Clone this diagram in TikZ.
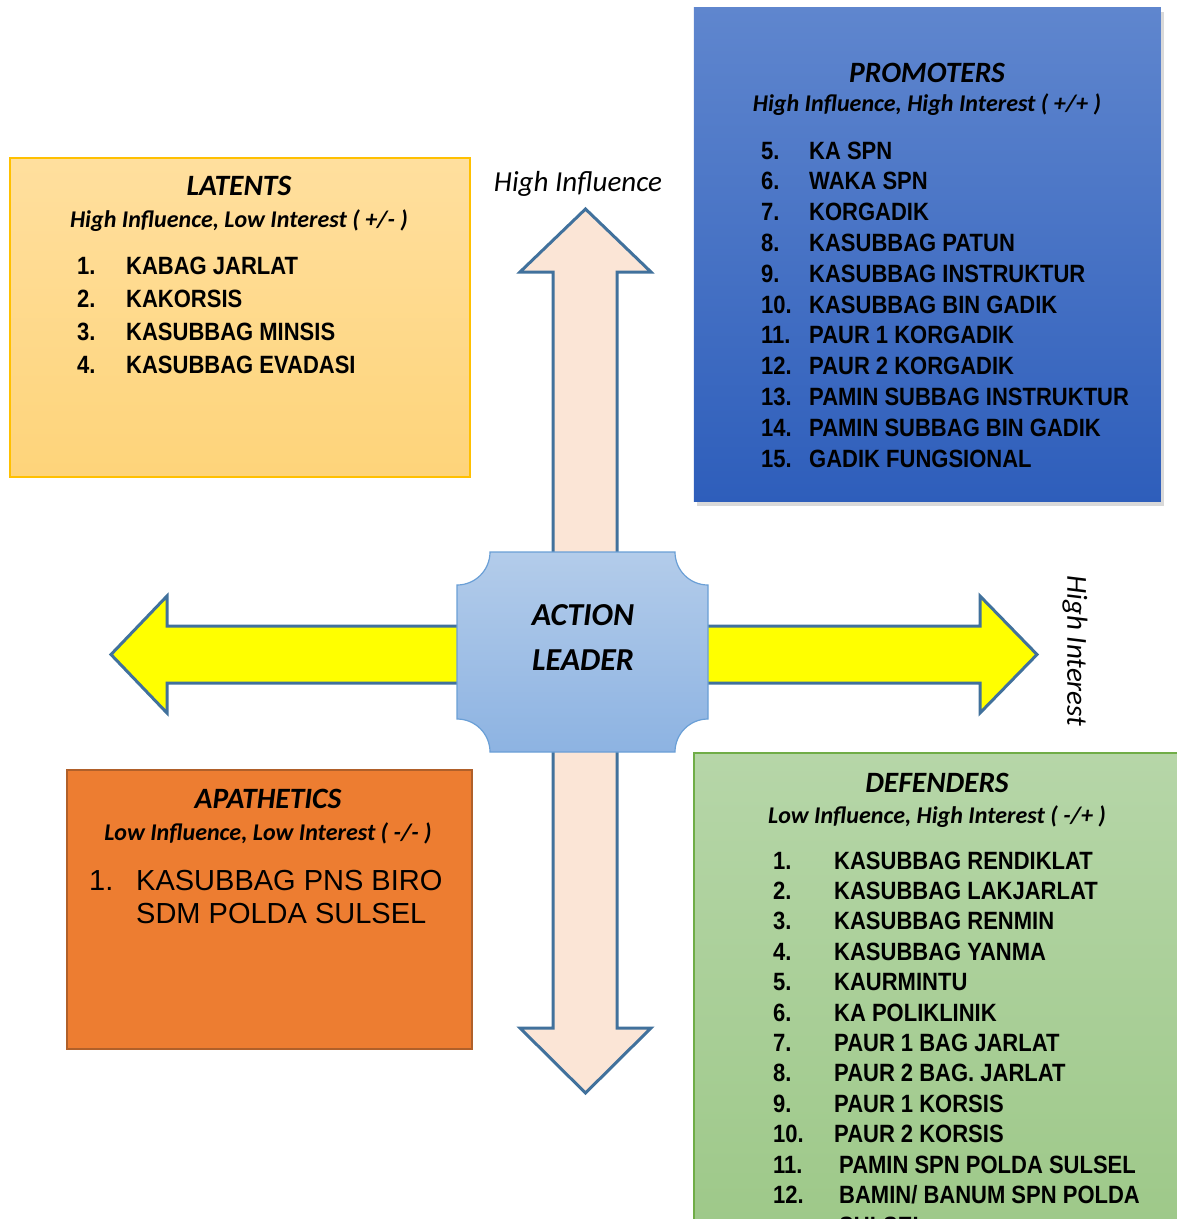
\documentclass[tikz,border=0pt]{standalone}
\usepackage{fontspec}
\setmainfont{Carlito}
\newfontfamily\arialfont{Liberation Sans}
\newfontfamily\narrowfont[FakeStretch=0.88]{Liberation Sans}
\usetikzlibrary{shadows}

\definecolor{arrowline}{HTML}{41719C}
\definecolor{shaftpink}{HTML}{FBE5D6}
\definecolor{arrowyellow}{HTML}{FFFF00}
\definecolor{latborder}{HTML}{FFC000}
\definecolor{lattop}{HTML}{FFDF9E}
\definecolor{latbottom}{HTML}{FED47A}
\definecolor{protop}{HTML}{5F86CE}
\definecolor{probottom}{HTML}{2E5EBB}
\definecolor{aptfill}{HTML}{ED7D31}
\definecolor{aptborder}{HTML}{B0602A}
\definecolor{defborder}{HTML}{70AD47}
\definecolor{deftop}{HTML}{B6D6A8}
\definecolor{defbottom}{HTML}{9DC888}
\definecolor{leaderline}{HTML}{6A9FD6}
\definecolor{leadertop}{HTML}{B3CCEA}
\definecolor{leaderbottom}{HTML}{8DB3E2}

\tikzset{
  quad/.style={draw,line width=1.5pt,anchor=north west,inner sep=0pt},
  title/.style={anchor=base,inner sep=0pt,font=\fontsize{29.5}{31}\selectfont\bfseries\itshape},
  subtitle/.style={anchor=base,inner sep=0pt,font=\fontsize{24}{26}\selectfont\bfseries\itshape},
  entry/.style={anchor=base west,inner sep=0pt,font=\fontsize{25}{30}\selectfont\narrowfont\bfseries},
  plainentry/.style={anchor=base west,inner sep=0pt,font=\fontsize{29}{33}\selectfont\arialfont},
  bigarrow/.style={draw=arrowline,line width=3pt,line join=miter},
  axislabel/.style={inner sep=0pt,font=\fontsize{29}{31}\selectfont\itshape},
}

\begin{document}
\begin{tikzpicture}[x=1pt,y=1pt]
  \useasboundingbox (0,0) rectangle (1177,-1219);
  \clip (0,0) rectangle (1177,-1219);

  % influence axis (up / down)
  \path[bigarrow,fill=shaftpink] (585.5,-209) -- (651,-272) -- (617,-272)
    -- (617,-1028) -- (651,-1028) -- (585.5,-1093) -- (520,-1028)
    -- (553,-1028) -- (553,-272) -- (520,-272) -- cycle;
  % interest axis (left / right)
  \path[bigarrow,fill=arrowyellow] (111,-654.5) -- (167,-596) -- (167,-626)
    -- (980,-626) -- (980,-596) -- (1037,-654.5) -- (980,-713)
    -- (980,-683) -- (167,-683) -- (167,-713) -- cycle;

  % action leader plaque
  \path[draw=leaderline,line width=1.2pt,top color=leadertop,bottom color=leaderbottom]
    (490,-552) -- (675,-552) arc[start angle=180,end angle=270,radius=33pt]
    -- (708,-719) arc[start angle=90,end angle=180,radius=33pt]
    -- (490,-752) arc[start angle=0,end angle=90,radius=33pt]
    -- (457,-585) arc[start angle=270,end angle=360,radius=33pt] -- cycle;
  \node[title,font=\fontsize{32}{34}\selectfont\bfseries\itshape] (leader1) at (583,-625) {ACTION};
  \node[title,font=\fontsize{32}{34}\selectfont\bfseries\itshape] (leader2) at (583,-670) {LEADER};

  \node[axislabel,anchor=base] (hinf) at (578,-191) {High Influence};
  \node[axislabel,rotate=-90] (hint) at (1075,-651) {High Interest};

  % latents
  \node[quad,draw=latborder,top color=lattop,bottom color=latbottom,
        minimum width=460pt,minimum height=319pt] (latents) at (9,-157) {};
  \node[title] (lat-title) at (239,-195) {LATENTS};
  \node[subtitle] (lat-sub) at (239,-227) {High Influence, Low Interest ( +/- )};
  \foreach \t [count=\i] in {KABAG JARLAT,KAKORSIS,KASUBBAG MINSIS,KASUBBAG EVADASI}{
    \node[entry] (lat-n\i) at (77,{-274-33*(\i-1)}) {\i.};
    \node[entry] (lat-t\i) at (126,{-274-33*(\i-1)}) {\t};
  }

  % promoters
  \node[quad,draw=none,top color=protop,bottom color=probottom,
        drop shadow={opacity=0.3,shadow xshift=3pt,shadow yshift=-4pt},
        minimum width=467pt,minimum height=494pt] (promoters) at (693,-7) {};
  \node[title] (pro-title) at (927,-82) {PROMOTERS};
  \node[subtitle] (pro-sub) at (927,-111) {High Influence, High Interest ( +/+ )};
  \foreach \t [count=\i from 5] in {KA SPN,WAKA SPN,KORGADIK,KASUBBAG PATUN,
      KASUBBAG INSTRUKTUR,KASUBBAG BIN GADIK,PAUR 1 KORGADIK,PAUR 2 KORGADIK,
      PAMIN SUBBAG INSTRUKTUR,PAMIN SUBBAG BIN GADIK,GADIK FUNGSIONAL}{
    \node[entry] (pro-n\i) at (761,{-159-30.8*(\i-5)}) {\i.};
    \node[entry] (pro-t\i) at (809,{-159-30.8*(\i-5)}) {\t};
  }

  % apathetics
  \node[quad,draw=aptborder,fill=aptfill,minimum width=405pt,minimum height=279pt]
    (apathetics) at (66,-769) {};
  \node[title] (apa-title) at (268,-808) {APATHETICS};
  \node[subtitle] (apa-sub) at (268,-840) {Low Influence, Low Interest ( -/- )};
  \node[plainentry] (apa-n1) at (89,-890) {1.};
  \node[plainentry] (apa-t1) at (136,-890) {KASUBBAG PNS BIRO};
  \node[plainentry] (apa-t1b) at (136,-923) {SDM POLDA SULSEL};

  % defenders
  \node[quad,draw=defborder,top color=deftop,bottom color=defbottom,
        minimum width=488pt,minimum height=488pt] (defenders) at (693,-752) {};
  \node[title] (def-title) at (937,-792) {DEFENDERS};
  \node[subtitle] (def-sub) at (937,-823) {Low Influence, High Interest ( -/+ )};
  \foreach \t [count=\i] in {KASUBBAG RENDIKLAT,KASUBBAG LAKJARLAT,KASUBBAG RENMIN,
      KASUBBAG YANMA,KAURMINTU,KA POLIKLINIK,PAUR 1 BAG JARLAT,PAUR 2 BAG. JARLAT,
      PAUR 1 KORSIS,PAUR 2 KORSIS}{
    \node[entry] (def-n\i) at (773,{-869-30.4*(\i-1)}) {\i.};
    \node[entry] (def-t\i) at (834,{-869-30.4*(\i-1)}) {\t};
  }
  \node[entry] (def-n11) at (773,-1173) {11.};
  \node[entry] (def-t11) at (839,-1173) {PAMIN SPN POLDA SULSEL};
  \node[entry] (def-n12) at (773,-1203) {12.};
  \node[entry] (def-t12) at (839,-1203) {BAMIN/ BANUM SPN POLDA};
  \node[entry] (def-t12b) at (839,-1234) {SULSEL};
\end{tikzpicture}
\end{document}
